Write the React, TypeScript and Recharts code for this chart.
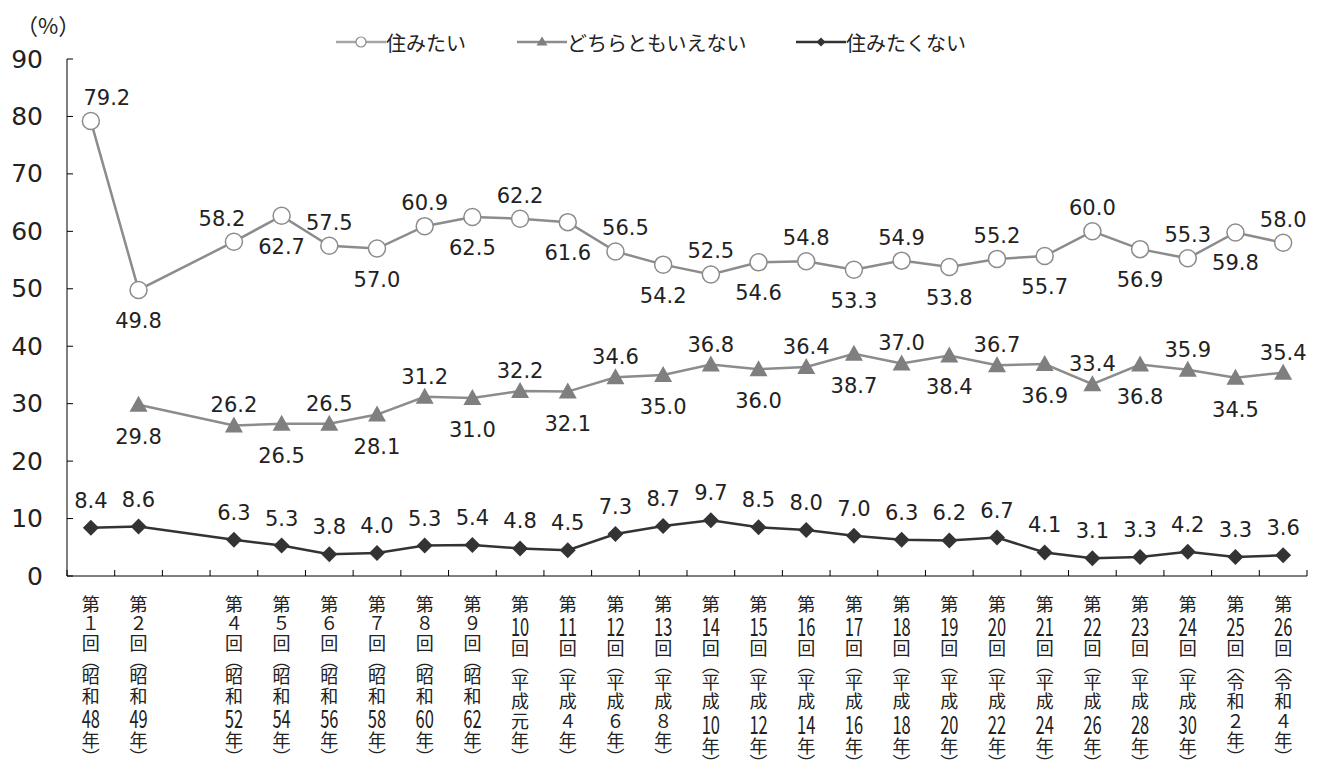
import React from 'react';
import { LineChart, Line, XAxis, YAxis, LabelList } from 'recharts';

// survey rounds (第3回 has no data, kept as an empty slot)
const rounds = [
  '第１回（昭和48年）', '第２回（昭和49年）', '', '第４回（昭和52年）', '第５回（昭和54年）',
  '第６回（昭和56年）', '第７回（昭和58年）', '第８回（昭和60年）', '第９回（昭和62年）', '第10回（平成元年）',
  '第11回（平成４年）', '第12回（平成６年）', '第13回（平成８年）', '第14回（平成10年）', '第15回（平成12年）',
  '第16回（平成14年）', '第17回（平成16年）', '第18回（平成18年）', '第19回（平成20年）', '第20回（平成22年）',
  '第21回（平成24年）', '第22回（平成26年）', '第23回（平成28年）', '第24回（平成30年）', '第25回（令和２年）',
  '第26回（令和４年）',
];

const wantToLive = [79.2, 49.8, null, 58.2, 62.7, 57.5, 57.0, 60.9, 62.5, 62.2, 61.6, 56.5, 54.2, 52.5, 54.6, 54.8, 53.3, 54.9, 53.8, 55.2, 55.7, 60.0, 56.9, 55.3, 59.8, 58.0];
const neither = [null, 29.8, null, 26.2, 26.5, 26.5, 28.1, 31.2, 31.0, 32.2, 32.1, 34.6, 35.0, 36.8, 36.0, 36.4, 38.7, 37.0, 38.4, 36.7, 36.9, 33.4, 36.8, 35.9, 34.5, 35.4];
const notWant = [8.4, 8.6, null, 6.3, 5.3, 3.8, 4.0, 5.3, 5.4, 4.8, 4.5, 7.3, 8.7, 9.7, 8.5, 8.0, 7.0, 6.3, 6.2, 6.7, 4.1, 3.1, 3.3, 4.2, 3.3, 3.6];

const yTicks = [0, 10, 20, 30, 40, 50, 60, 70, 80, 90];

const data = rounds.map((round, i) => ({
  round,
  want: wantToLive[i],
  neither: neither[i],
  notWant: notWant[i],
}));

const W = 1315;
const H = 761;
const PLOT_LEFT = 59;
const PLOT_W = 1240;
const BW = PLOT_W / rounds.length;
const LABEL_FONT = '"DejaVu Sans", Verdana, sans-serif';
const JP_FONT = '"Noto Sans CJK JP", sans-serif';

// split a round label into vertical cells
function toCells(label: string) {
  const cells: string[] = [];
  let digits = '';
  for (const ch of label) {
    if (/[0-9]/.test(ch)) {
      digits += ch;
      continue;
    }
    if (digits) { cells.push(digits); digits = ''; }
    if (ch === '（') cells.push('︵');
    else if (ch === '）') cells.push('︶');
    else cells.push(ch);
  }
  if (digits) cells.push(digits);
  return cells;
}

function XTick(props: any) {
  const { x, y, payload, index } = props;
  const cells = toCells(payload.value || '');
  let cy = y + 17;
  const out: any[] = [];
  cells.forEach((c, i) => {
    const isParen = c === '︵' || c === '︶';
    const isNum = /^[0-9]+$/.test(c);
    const h = isParen ? 14 : isNum ? 25 : 19.5;
    const mid = cy + h / 2;
    if (isNum) {
      out.push(
        <text key={i} transform={`translate(${x},${mid}) scale(0.66,1)`} textAnchor="middle"
          dominantBaseline="central" fontSize={25} fontFamily={JP_FONT} fill="#222">{c}</text>
      );
    } else {
      out.push(
        <text key={i} x={x} y={mid} textAnchor="middle" dominantBaseline="central"
          fontSize={18} fontFamily={JP_FONT} fill="#222">{c}</text>
      );
    }
    cy += h;
  });
  return (
    <g>
      <line x1={x - BW / 2} x2={x - BW / 2} y1={y} y2={y - 6} stroke="#000" strokeWidth={1} />
      {index === rounds.length - 1 && (
        <line x1={x + BW / 2} x2={x + BW / 2} y1={y} y2={y - 6} stroke="#000" strokeWidth={1} />
      )}
      {out}
    </g>
  );
}

function YTick(props: any) {
  const { x, y, payload } = props;
  return (
    <g>
      <line x1={PLOT_LEFT} x2={PLOT_LEFT + 6} y1={y} y2={y} stroke="#000" strokeWidth={1} />
      <text x={x} y={y} textAnchor="end" dominantBaseline="central" fontSize={25}
        fontFamily={LABEL_FONT} fill="#222">{payload.value}</text>
    </g>
  );
}

// labels alternate above/below, odd rounds below (round 1 above, round 2 below)
function isAbove(index: number) {
  if (index === 0) return true;
  if (index === 1) return false;
  return (index + 1) % 2 === 0;
}

const makeLabel = (kind: 'circle' | 'triangle' | 'diamond') => (props: any) => {
  const { x, y, value, index } = props;
  if (value == null || x == null || y == null) return null;
  let dy: number;
  if (kind === 'diamond') dy = -27;
  else {
    const above = isAbove(index);
    if (kind === 'circle') dy = above ? -23 : 31;
    else dy = above ? -20 : 32;
  }
  let dx = 0;
  if (kind === 'circle') {
    if (index === 0) dx = 16;
    if (index === 3) dx = -12;
    if (index === 11) dx = 10;
  }
  return (
    <text x={x + dx} y={y + dy} textAnchor="middle" dominantBaseline="central" fontSize={21}
      fontFamily={LABEL_FONT} fill="#222">{Number(value).toFixed(1)}</text>
  );
};

const circleDot = (props: any) => {
  const { cx, cy, value, index } = props;
  if (value == null || cy == null) return <g key={`c${index}`} />;
  return <circle key={`c${index}`} cx={cx} cy={cy} r={8.5} fill="#fff" stroke="#8c8c8c" strokeWidth={1.5} />;
};

const triangleDot = (props: any) => {
  const { cx, cy, value, index } = props;
  if (value == null || cy == null) return <g key={`t${index}`} />;
  return <polygon key={`t${index}`} points={`${cx},${cy - 9} ${cx + 9},${cy + 7} ${cx - 9},${cy + 7}`} fill="#7f7f7f" />;
};

const diamondDot = (props: any) => {
  const { cx, cy, value, index } = props;
  if (value == null || cy == null) return <g key={`d${index}`} />;
  return <polygon key={`d${index}`} points={`${cx},${cy - 8} ${cx + 8},${cy} ${cx},${cy + 8} ${cx - 8},${cy}`} fill="#333" />;
};

function LegendItem({ left, color, marker, text }: any) {
  return (
    <div style={{ position: 'absolute', left, top: 22, display: 'flex', alignItems: 'center', height: 24 }}>
      <svg width={50} height={20}>
        <line x1={0} x2={50} y1={10} y2={10} stroke={color} strokeWidth={2.5} />
        {marker === 'circle' && <circle cx={25} cy={10} r={5} fill="#fff" stroke="#8c8c8c" strokeWidth={1.2} />}
        {marker === 'triangle' && <polygon points="25,4.5 30.5,13.5 19.5,13.5" fill="#7f7f7f" />}
        {marker === 'diamond' && <polygon points="25,5.5 29.5,10 25,14.5 20.5,10" fill="#333" />}
      </svg>
      <span style={{ fontFamily: JP_FONT, fontSize: 20, color: '#222', marginLeft: 0, whiteSpace: 'nowrap' }}>{text}</span>
    </div>
  );
}

export default function App() {
  return (
    <div style={{ position: 'relative', width: W, height: H, background: '#fff' }}>
      <div style={{ position: 'absolute', left: 8, top: 0, fontFamily: JP_FONT, fontSize: 22, color: '#222' }}>（%）</div>
      <LegendItem left={328} color="#a6a6a6" marker="circle" text="住みたい" />
      <LegendItem left={509} color="#8c8c8c" marker="triangle" text="どちらともいえない" />
      <LegendItem left={788} color="#333" marker="diamond" text="住みたくない" />
      <LineChart width={W} height={H} data={data} margin={{ top: 51, right: 16, left: 0, bottom: 0 }}>
        <XAxis dataKey="round" interval={0} height={193} tickLine={false} tickSize={0} tickMargin={0}
          padding={{ left: BW / 2, right: BW / 2 }}
          axisLine={{ stroke: '#000', strokeWidth: 1 }} tick={<XTick />} />
        <YAxis domain={[0, 90]} ticks={yTicks} width={PLOT_LEFT} tickLine={false} tickSize={0} tickMargin={24}
          axisLine={{ stroke: '#000', strokeWidth: 1 }} tick={<YTick />} interval={0} />
        <Line dataKey="want" stroke="#8c8c8c" strokeWidth={2.5} connectNulls isAnimationActive={false} dot={circleDot}>
          <LabelList dataKey="want" content={makeLabel('circle')} />
        </Line>
        <Line dataKey="neither" stroke="#8c8c8c" strokeWidth={2.5} connectNulls isAnimationActive={false} dot={triangleDot}>
          <LabelList dataKey="neither" content={makeLabel('triangle')} />
        </Line>
        <Line dataKey="notWant" stroke="#333" strokeWidth={2.5} connectNulls isAnimationActive={false} dot={diamondDot}>
          <LabelList dataKey="notWant" content={makeLabel('diamond')} />
        </Line>
      </LineChart>
    </div>
  );
}
